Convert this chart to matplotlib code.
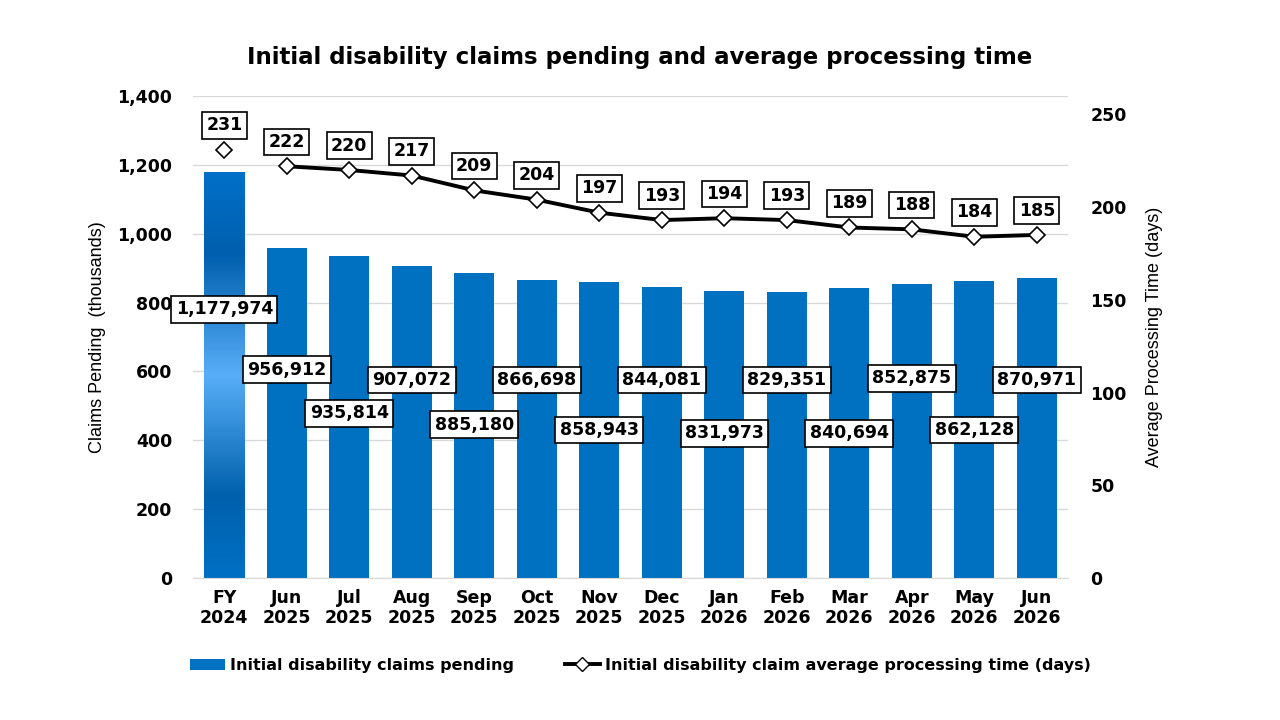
import matplotlib
matplotlib.use("Agg")
import matplotlib.pyplot as plt
import numpy as np
from matplotlib.colors import LinearSegmentedColormap
from matplotlib.lines import Line2D
from matplotlib.patches import Patch

# ---- data ----
categories = ["FY\n2024", "Jun\n2025", "Jul\n2025", "Aug\n2025", "Sep\n2025", "Oct\n2025",
              "Nov\n2025", "Dec\n2025", "Jan\n2026", "Feb\n2026", "Mar\n2026", "Apr\n2026",
              "May\n2026", "Jun\n2026"]
claims_pending = [1177974, 956912, 935814, 907072, 885180, 866698, 858943, 844081,
                  831973, 829351, 840694, 852875, 862128, 870971]
processing_days = [231, 222, 220, 217, 209, 204, 197, 193, 194, 193, 189, 188, 184, 185]

# ---- layout (label anchor heights in thousands, left axis) ----
label_y = [780, 605, 478, 575, 445, 575, 430, 575, 420, 575, 420, 580, 430, 575]

BLUE = "#0070C0"
FONT = "DejaVu Sans"
NARROW = ["Liberation Sans Narrow", "Liberation Sans", "DejaVu Sans"]

fig = plt.figure(figsize=(12.8, 7.2), dpi=100)
ax = fig.add_axes([0.1508, 0.197, 0.6836, 0.67])
ax2 = ax.twinx()

x = np.arange(len(categories))
vals_k = np.array(claims_pending) / 1000.0
width = 0.64

bars = ax.bar(x, vals_k, width=width, color=BLUE, zorder=2)

# gradient for first bar
b0 = bars[0]
b0.set_facecolor("none")
grad_cmap = LinearSegmentedColormap.from_list(
    "g", [(0.0, "#0070C4"), (0.2, "#0060AC"), (0.5, "#58AEF8"), (0.8, "#005FAE"), (1.0, "#0070C8")])
ny = 200
gy = np.linspace(0, 1, ny)[:, None]
gx = np.linspace(-1, 1, 40)[None, :]
img = gy + 0 * gx
im = ax.imshow(img, cmap=grad_cmap, aspect="auto", origin="lower",
               extent=[x[0] - width / 2, x[0] + width / 2, 0, vals_k[0]], zorder=2,
               interpolation="bilinear")
im.set_clip_path(b0)

ax.set_xlim(-0.5, len(categories) - 0.5)
ax.set_ylim(0, 1400)
ax.set_yticks(np.arange(0, 1401, 200))
ax.set_yticklabels([f"{v:,}" for v in range(0, 1401, 200)], fontsize=12.5,
                   fontweight="bold", family=FONT)
ax.yaxis.grid(True, color="#d9d9d9", linewidth=1.0, zorder=0)
ax.set_axisbelow(True)
ax.set_xticks(x)
ax.set_xticklabels(categories, fontsize=12.5, fontweight="bold", family=FONT, linespacing=1.15)
ax.tick_params(axis="x", length=0, pad=8)
ax.tick_params(axis="y", length=0, pad=15)
for s in ax.spines.values():
    s.set_visible(False)
ax.spines["bottom"].set_visible(True)
ax.spines["bottom"].set_color("#d9d9d9")
ax.set_ylabel("Claims Pending  (thousands)", fontsize=13, family=NARROW, labelpad=8)

ax2.set_ylim(0, 260)
ax2.set_yticks(np.arange(0, 251, 50))
ax2.set_yticklabels([str(v) for v in range(0, 251, 50)], fontsize=12.5,
                    fontweight="bold", family=FONT)
ax2.tick_params(axis="y", length=0, pad=16)
for s in ax2.spines.values():
    s.set_visible(False)
ax2.set_ylabel("Average Processing Time (days)", fontsize=13, family=NARROW, labelpad=14)

# line (first point standalone)
ax2.plot(x[1:], processing_days[1:], color="black", linewidth=2.8, zorder=4,
         marker="D", markersize=8, markerfacecolor="white", markeredgecolor="black",
         markeredgewidth=1.2)
ax2.plot(x[:1], processing_days[:1], linestyle="none", zorder=4,
         marker="D", markersize=8, markerfacecolor="white", markeredgecolor="black",
         markeredgewidth=1.2)

box = dict(boxstyle="square,pad=0.25", facecolor="white", edgecolor="black", linewidth=1.2)
for xi, d in zip(x, processing_days):
    ax2.annotate(f"{d}", (xi, d), xytext=(0, 11), textcoords="offset points",
                 ha="center", va="bottom", fontsize=12.5, fontweight="bold",
                 family=FONT, bbox=box, zorder=6)

for xi, v, ly in zip(x, claims_pending, label_y):
    ax.text(xi, ly, f"{v:,}", ha="center", va="center", fontsize=12.5,
            fontweight="bold", family=FONT, bbox=box, zorder=6)

fig.text(0.5, 0.92, "Initial disability claims pending and average processing time",
         ha="center", va="center", fontsize=16.5, fontweight="bold", family=FONT)

handles = [Patch(facecolor=BLUE, edgecolor="none"),
           Line2D([0], [0], color="black", linewidth=2.8, marker="D", markersize=7,
                  markerfacecolor="white", markeredgecolor="black")]
leg = fig.legend(handles, ["Initial disability claims pending",
                           "Initial disability claim average processing time (days)"],
                 loc="center", bbox_to_anchor=(0.5, 0.076), ncol=2, frameon=False,
                 prop={"family": FONT, "weight": "bold", "size": 11.5},
                 handlelength=2.2, handletextpad=0.3, columnspacing=3.2)

fig.savefig("out.png", dpi=100)
